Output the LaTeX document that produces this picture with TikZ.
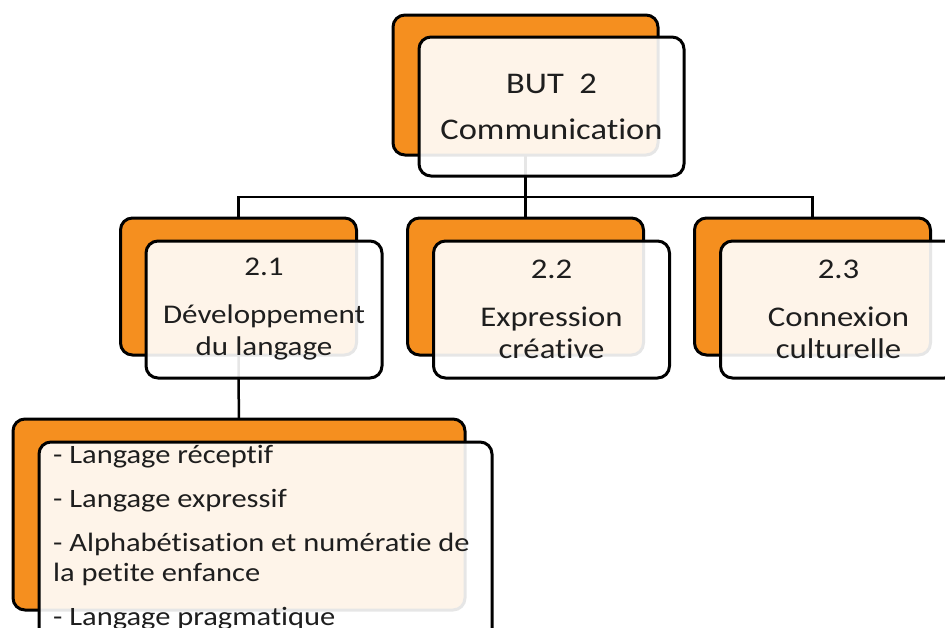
\documentclass[tikz,border=0pt]{standalone}
\usepackage{fontspec}
\setmainfont{Carlito}[FakeStretch=1.15, Ligatures=NoCommon]
\definecolor{boxorange}{RGB}{245,143,31}
\definecolor{txt}{RGB}{30,30,30}
\begin{document}
\begin{tikzpicture}[x=1pt,y=-1pt,
  backbox/.style={draw=black, line width=3pt, fill=boxorange, rounded corners=12pt, inner sep=0pt},
  frontbox/.style={draw=black, line width=3pt, fill=white, fill opacity=0.9, text opacity=1,
    rounded corners=12pt, inner sep=0pt, align=center, text=txt},
  childsize/.style={minimum width=236pt, minimum height=137pt},
  link/.style={draw=black, line width=2.5pt}]
\useasboundingbox (0,0) rectangle (945,627);
\clip (0,0) rectangle (945,627);
\coordinate (bar) at (0,197);
\path (525.5,85) coordinate (topc) (238.5,286.5) coordinate (c21)
      (525.5,286.5) coordinate (c22) (812.5,286.5) coordinate (c23)
      (239,514.5) coordinate (cbb);
\draw[link] (topc) -- (c22);
\draw[link] (c21) -- (c21 |- bar) -- (c23 |- bar) -- (c23);
\draw[link] (c21) -- (cbb);
% top
\node[backbox, minimum width=265pt, minimum height=140pt] (topb) at (topc) {};
\node[frontbox, minimum width=265pt, minimum height=139pt,
  font=\fontsize{30pt}{35pt}\selectfont] (topf) at (551.5,106.5) {BUT\ \ 2\\[11pt]Communication};
% 2.1
\node[backbox, childsize] (b21) at (c21) {};
\node[frontbox, childsize, font=\fontsize{27pt}{32pt}\selectfont] (f21) at (264,309.5)
  {2.1\\[16pt]Développement\\du langage};
% 2.2
\node[backbox, childsize] (b22) at (c22) {};
\node[frontbox, childsize, font=\fontsize{28.5pt}{32pt}\selectfont] (f22) at (551.5,309.5)
  {2.2\\[16pt]Expression\\créative};
% 2.3
\node[backbox, childsize] (b23) at (c23) {};
\node[frontbox, childsize, font=\fontsize{28.5pt}{32pt}\selectfont] (f23) at (838.5,309.5)
  {2.3\\[16pt]Connexion\\culturelle};
% bottom
\node[backbox, minimum width=452pt, minimum height=191pt] (bb) at (cbb) {};
\node[frontbox, minimum width=453pt, minimum height=220pt] (bf) at (265.5,552) {};
\node[anchor=base west, align=left, inner sep=0pt, text=txt,
  font=\fontsize{26.5pt}{30pt}\selectfont] (bt) at (53,625)
  {- Langage réceptif\\[14pt]- Langage expressif\\[14pt]- Alphabétisation et numératie de\\la petite enfance\\[14pt]- Langage pragmatique};
\end{tikzpicture}
\end{document}
